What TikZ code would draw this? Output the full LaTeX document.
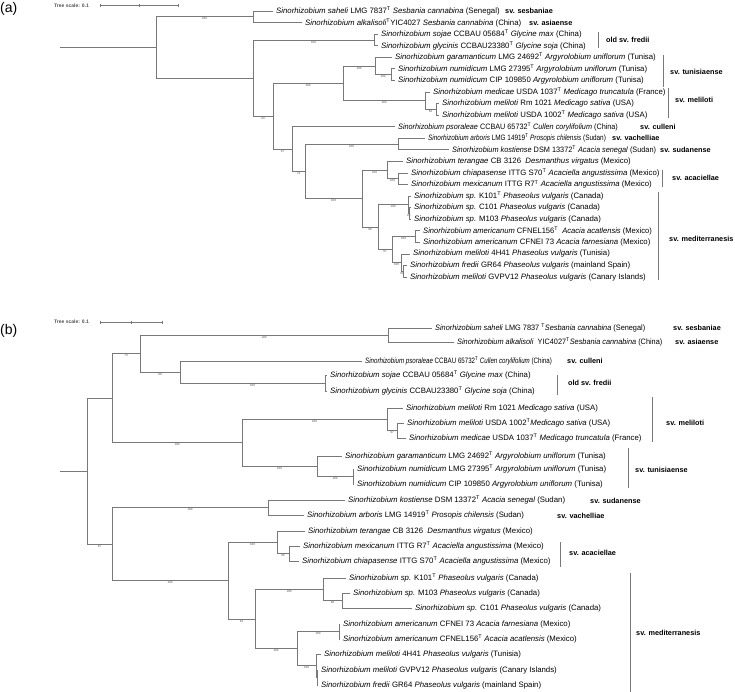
\documentclass[tikz,border=0pt]{standalone}
\usepackage{graphicx}
\usepackage{fontspec}
\setmainfont{Liberation Sans}
\definecolor{treeGray}{RGB}{120,120,120}
\definecolor{labelGray}{RGB}{80,80,80}
\newcommand{\sino}[1]{\textit{Sinorhizobium #1}}
\newcommand{\typ}{\textsuperscript{T}}
\newcommand{\squeeze}[2]{\scalebox{#1}[1]{#2}}
\tikzset{
  branch/.style={treeGray, line width=0.7pt},
  leaf/.style={anchor=west, inner sep=3pt, font=\fontsize{7.8}{9}\selectfont},
  blab/.style={below, inner sep=0.7pt, text=labelGray, font=\fontsize{3}{3.5}\selectfont},
  svlab/.style={anchor=west, inner sep=0pt, font=\fontsize{7.3}{9}\selectfont\bfseries},
  scaletxt/.style={anchor=west, inner sep=0pt, text=labelGray, font=\fontsize{5}{6}\selectfont\bfseries},
  panel/.style={anchor=west, inner sep=0pt, font=\fontsize{14}{16}\selectfont}
}

\begin{document}
\begin{tikzpicture}[x=1pt, y=-1pt]
\useasboundingbox (0,0) rectangle (735,692);

% panel (a)
\node[panel] (pa) at (0,9) {(a)};
\node[scaletxt] (sa) at (54,5.5) {Tree scale: 0.1};
\draw[treeGray, line width=0.5pt] (100,5.5) -- (178,5.5) (100,4) -- (100,7) (139,4) -- (139,7) (178,4) -- (178,7);

\coordinate (aR) at (60,47.4);
\coordinate (aN1) at (156,47.4);
\coordinate (aN2) at (253,16.8);
\coordinate (aN3) at (253,78);
\coordinate (aN4) at (374,39.9);
\coordinate (aN5) at (273,116.2);
\coordinate (aN6) at (343,83.3);
\coordinate (aN7) at (375,66);
\coordinate (aN7b) at (391,74.6);
\coordinate (aN8) at (425,100.7);
\coordinate (aN8b) at (436,109.3);
\coordinate (aN9) at (292,149);
\coordinate (aN10) at (305,171.3);
\coordinate (aN11) at (398,144);
\coordinate (aN12) at (362,198.5);
\coordinate (aN13) at (387,170);
\coordinate (aN14) at (398,178.7);
\coordinate (aN15) at (378,227.1);
\coordinate (aN16) at (408,204.7);
\coordinate (aN17) at (409.5,213.4);
\coordinate (aN18) at (392,249.5);
\coordinate (aN19) at (415,236.5);
\coordinate (aN20) at (401,262.6);
\coordinate (aN21) at (403,271.2);

\node[leaf] (a0) at (273,11) {\sino{saheli} LMG 7837\typ{} \textit{Sesbania cannabina} (Senegal)};
\node[leaf] (a1) at (302,22.6) {\sino{alkalisoli}\typ YIC4027 \textit{Sesbania cannabina} (China)};
\node[leaf] (a2) at (378,34.1) {\sino{sojae} CCBAU 05684\typ{} \textit{Glycine max} (China)};
\node[leaf] (a3) at (378,45.7) {\sino{glycinis} CCBAU23380\typ{} \textit{Glycine soja} (China)};
\node[leaf] (a4) at (392,57.3) {\sino{garamanticum} LMG 24692\typ{} \textit{Argyrolobium uniflorum} (Tunisa)};
\node[leaf] (a5) at (395,68.8) {\sino{numidicum} LMG 27395\typ{} \textit{Argyrolobium uniflorum} (Tunisa)};
\node[leaf] (a6) at (395,80.4) {\sino{numidicum} CIP 109850 \textit{Argyrolobium uniflorum} (Tunisa)};
\node[leaf] (a7) at (430,92) {\sino{medicae} USDA 1037\typ{} \textit{Medicago truncatula} (France)};
\node[leaf] (a8) at (439,103.5) {\sino{meliloti} Rm 1021 \textit{Medicago sativa} (USA)};
\node[leaf] (a9) at (439,115.1) {\sino{meliloti} USDA 1002\typ{} \textit{Medicago sativa} (USA)};
\node[leaf] (a10) at (395,126.7) {\squeeze{0.93}{\sino{psoraleae} CCBAU 65732\typ{} \textit{Cullen corylifolium} (China)}};
\node[leaf] (a11) at (425,138.2) {\squeeze{0.82}{\sino{arboris} LMG 14919\typ{} \textit{Prosopis chilensis} (Sudan)}};
\node[leaf] (a12) at (449,149.8) {\squeeze{0.94}{\sino{kostiense} DSM 13372\typ{} \textit{Acacia senegal} (Sudan)}};
\node[leaf] (a13) at (403,161.3) {\sino{terangae} CB 3126~ \textit{Desmanthus virgatus} (Mexico)};
\node[leaf] (a14) at (408,172.9) {\sino{chiapasense} ITTG S70\typ{} \textit{Acaciella angustissima} (Mexico)};
\node[leaf] (a15) at (408,184.5) {\sino{mexicanum} ITTG R7\typ{} \textit{Acaciella angustissima} (Mexico)};
\node[leaf] (a16) at (411,196) {\sino{sp.} K101\typ{} \textit{Phaseolus vulgaris} (Canada)};
\node[leaf] (a17) at (411,207.6) {\sino{sp.} C101 \textit{Phaseolus vulgaris} (Canada)};
\node[leaf] (a18) at (411,219.2) {\sino{sp.} M103 \textit{Phaseolus vulgaris} (Canada)};
\node[leaf] (a19) at (420,230.7) {\squeeze{0.97}{\sino{americanum} CFNEL156\typ{}~ \textit{Acacia acatlensis} (Mexico)}};
\node[leaf] (a20) at (420,242.3) {\sino{americanum} CFNEI 73 \textit{Acacia farnesiana} (Mexico)};
\node[leaf] (a21) at (410,253.9) {\sino{meliloti} 4H41 \textit{Phaseolus vulgaris} (Tunisia)};
\node[leaf] (a22) at (407,265.4) {\sino{fredii} GR64 \textit{Phaseolus vulgaris} (mainland Spain)};
\node[leaf] (a23) at (407,277) {\sino{meliloti} GVPV12 \textit{Phaseolus vulgaris} (Canary Islands)};

\draw[branch] (aR) -- (aN1);
\foreach \p/\c/\l in {aN1/aN2/100, aN3/aN4/100, aN3/aN5/93, aN5/aN6/100, aN5/aN9/97,
    aN6/aN7/100, aN6/aN8/100, aN7/aN7b/100, aN8/aN8b/60, aN9/aN10/73, aN10/aN11/100,
    aN10/aN12/100, aN12/aN13/100, aN12/aN15/99, aN13/aN14/100, aN15/aN16/100,
    aN15/aN18/97, aN16/aN17/99, aN18/aN19/100, aN18/aN20/100, aN20/aN21/90}
  \draw[branch] (\p) |- node[blab, pos=.75] {\l} (\c);
\foreach \p/\c in {aN1/aN3, aN2/a0, aN2/a1, aN4/a2, aN4/a3, aN7/a4, aN7b/a5, aN7b/a6,
    aN8/a7, aN8b/a8, aN8b/a9, aN9/a10, aN11/a11, aN11/a12, aN13/a13, aN14/a14, aN14/a15,
    aN16/a16, aN17/a17, aN17/a18, aN19/a19, aN19/a20, aN20/a21, aN21/a22, aN21/a23}
  \draw[branch] (\p) |- (\c);

\node[svlab] at (505,11) {sv. sesbaniae};
\node[svlab] at (529,22.6) {sv. asiaense};
\node[svlab] at (606,40) {old sv. fredii};
\node[svlab] at (670,72) {sv. tunisiaense};
\node[svlab] at (675,100) {sv. meliloti};
\node[svlab] at (640,126.7) {sv. culleni};
\node[svlab] at (612,138.2) {sv. vachelliae};
\node[svlab] at (660,149.8) {sv. sudanense};
\node[svlab] at (672,178) {sv. acaciellae};
\node[svlab] at (669,239) {sv. mediterranesis};
\draw[branch] (598,32) -- (598,48) (663,55) -- (663,87) (668,88) -- (668,118)
  (662,170) -- (662,187) (658,192) -- (658,280);

% panel (b)
\node[panel] (pb) at (0,331) {(b)};
\node[scaletxt] (sb) at (54,322) {Tree scale: 0.1};
\draw[treeGray, line width=0.5pt] (100,322) -- (162,322) (100,320.5) -- (100,323.5) (131,320.5) -- (131,323.5) (162,320.5) -- (162,323.5);

\coordinate (bR) at (60,471.1);
\coordinate (bN1) at (87,471.1);
\coordinate (bN2) at (112,398.1);
\coordinate (bN3) at (140,353.5);
\coordinate (bN4) at (388,335);
\coordinate (bN5) at (180,372);
\coordinate (bN5b) at (325,383);
\coordinate (bN6) at (242,442.75);
\coordinate (bN7) at (387,419.25);
\coordinate (bN7b) at (397,430.5);
\coordinate (bN8) at (317,466.25);
\coordinate (bN8b) at (353,476.5);
\coordinate (bN10) at (112,544);
\coordinate (bN11) at (268,507.5);
\coordinate (bN12) at (228,580.6);
\coordinate (bN13) at (277,542.25);
\coordinate (bN14) at (289,553.5);
\coordinate (bN15) at (255,618.9);
\coordinate (bN16) at (323,589.25);
\coordinate (bN17) at (342,600.5);
\coordinate (bN18) at (297,648.6);
\coordinate (bN19) at (339,631.5);
\coordinate (bN20) at (316,665.75);
\coordinate (bN21) at (317,677.5);

\node[leaf] (b0) at (432,328) {\squeeze{0.94}{\sino{saheli} LMG 7837 \typ\textit{Sesbania cannabina} (Senegal)}};
\node[leaf] (b1) at (454,342) {\squeeze{0.94}{\sino{alkalisoli}~ YIC4027\typ\textit{Sesbania cannabina} (China)}};
\node[leaf] (b2) at (362,361) {\squeeze{0.79}{\sino{psoraleae} CCBAU 65732\typ{} \textit{Cullen corylifolium} (China)}};
\node[leaf] (b3) at (327,375) {\sino{sojae} CCBAU 05684\typ{} \textit{Glycine max} (China)};
\node[leaf] (b4) at (327,391) {\sino{glycinis} CCBAU23380\typ{} \textit{Glycine soja} (China)};
\node[leaf] (b5) at (403,408) {\sino{meliloti} Rm 1021 \textit{Medicago sativa} (USA)};
\node[leaf] (b6) at (404,423) {\sino{meliloti} USDA 1002\typ\textit{Medicago sativa} (USA)};
\node[leaf] (b7) at (406,438) {\sino{medicae} USDA 1037\typ{} \textit{Medicago truncatula} (France)};
\node[leaf] (b8) at (342,456) {\sino{garamanticum} LMG 24692\typ{} \textit{Argyrolobium uniflorum} (Tunisa)};
\node[leaf] (b9) at (354,469) {\sino{numidicum} LMG 27395\typ{} \textit{Argyrolobium uniflorum} (Tunisa)};
\node[leaf] (b10) at (354,484) {\sino{numidicum} CIP 109850 \textit{Argyrolobium uniflorum} (Tunisa)};
\node[leaf] (b11) at (345,500) {\sino{kostiense} DSM 13372\typ{} \textit{Acacia senegal} (Sudan)};
\node[leaf] (b12) at (304,515) {\sino{arboris} LMG 14919\typ{} \textit{Prosopis chilensis} (Sudan)};
\node[leaf] (b13) at (305,531) {\sino{terangae} CB 3126~ \textit{Desmanthus virgatus} (Mexico)};
\node[leaf] (b14) at (300,546) {\sino{mexicanum} ITTG R7\typ{} \textit{Acaciella angustissima} (Mexico)};
\node[leaf] (b15) at (299,561) {\sino{chiapasense} ITTG S70\typ{} \textit{Acaciella angustissima} (Mexico)};
\node[leaf] (b16) at (346,578) {\sino{sp.} K101\typ{} \textit{Phaseolus vulgaris} (Canada)};
\node[leaf] (b17) at (350,593) {\sino{sp.} M103 \textit{Phaseolus vulgaris} (Canada)};
\node[leaf] (b18) at (412,608) {\sino{sp.} C101 \textit{Phaseolus vulgaris} (Canada)};
\node[leaf] (b19) at (340,624) {\sino{americanum} CFNEI 73 \textit{Acacia farnesiana} (Mexico)};
\node[leaf] (b20) at (340,639) {\sino{americanum} CFNEL156\typ{} \textit{Acacia acatlensis} (Mexico)};
\node[leaf] (b21) at (321,654) {\sino{meliloti} 4H41 \textit{Phaseolus vulgaris} (Tunisia)};
\node[leaf] (b22) at (318,670) {\sino{meliloti} GVPV12 \textit{Phaseolus vulgaris} (Canary Islands)};
\node[leaf] (b23) at (318,685) {\sino{fredii} GR64 \textit{Phaseolus vulgaris} (mainland Spain)};

\draw[branch] (bR) -- (bN1);
\foreach \p/\c/\l in {bN1/bN10/97, bN2/bN3/73, bN2/bN6/100, bN3/bN4/100, bN3/bN5/90,
    bN5/bN5b/100, bN6/bN7/100, bN6/bN8/100, bN7/bN7b/97, bN8/bN8b/100, bN10/bN11/100,
    bN10/bN12/100, bN12/bN13/100, bN12/bN15/92, bN13/bN14/96, bN15/bN16/100,
    bN15/bN18/100, bN16/bN17/96, bN18/bN19/100, bN18/bN20/100}
  \draw[branch] (\p) |- node[blab, pos=.75] {\l} (\c);
\foreach \p/\c in {bN1/bN2, bN4/b0, bN4/b1, bN5/b2, bN5b/b3, bN5b/b4, bN7/b5, bN7b/b6,
    bN7b/b7, bN8/b8, bN8b/b9, bN8b/b10, bN11/b11, bN11/b12, bN13/b13, bN14/b14, bN14/b15,
    bN16/b16, bN17/b17, bN17/b18, bN19/b19, bN19/b20, bN20/b21, bN20/bN21, bN21/b22, bN21/b23}
  \draw[branch] (\p) |- (\c);

\node[svlab] at (673,328) {sv. sesbaniae};
\node[svlab] at (675,342) {sv. asiaense};
\node[svlab] at (567,361) {sv. culleni};
\node[svlab] at (568,383) {old sv. fredii};
\node[svlab] at (666,423) {sv. meliloti};
\node[svlab] at (635,470) {sv. tunisiaense};
\node[svlab] at (590,501) {sv. sudanense};
\node[svlab] at (557,516) {sv. vachelliae};
\node[svlab] at (569,553) {sv. acaciellae};
\node[svlab] at (636,633) {sv. mediterranesis};
\draw[branch] (557,375) -- (557,395) (652,397) -- (652,442) (628,448) -- (628,488)
  (560,542) -- (560,567) (630,573) -- (630,692);
\end{tikzpicture}
\end{document}
